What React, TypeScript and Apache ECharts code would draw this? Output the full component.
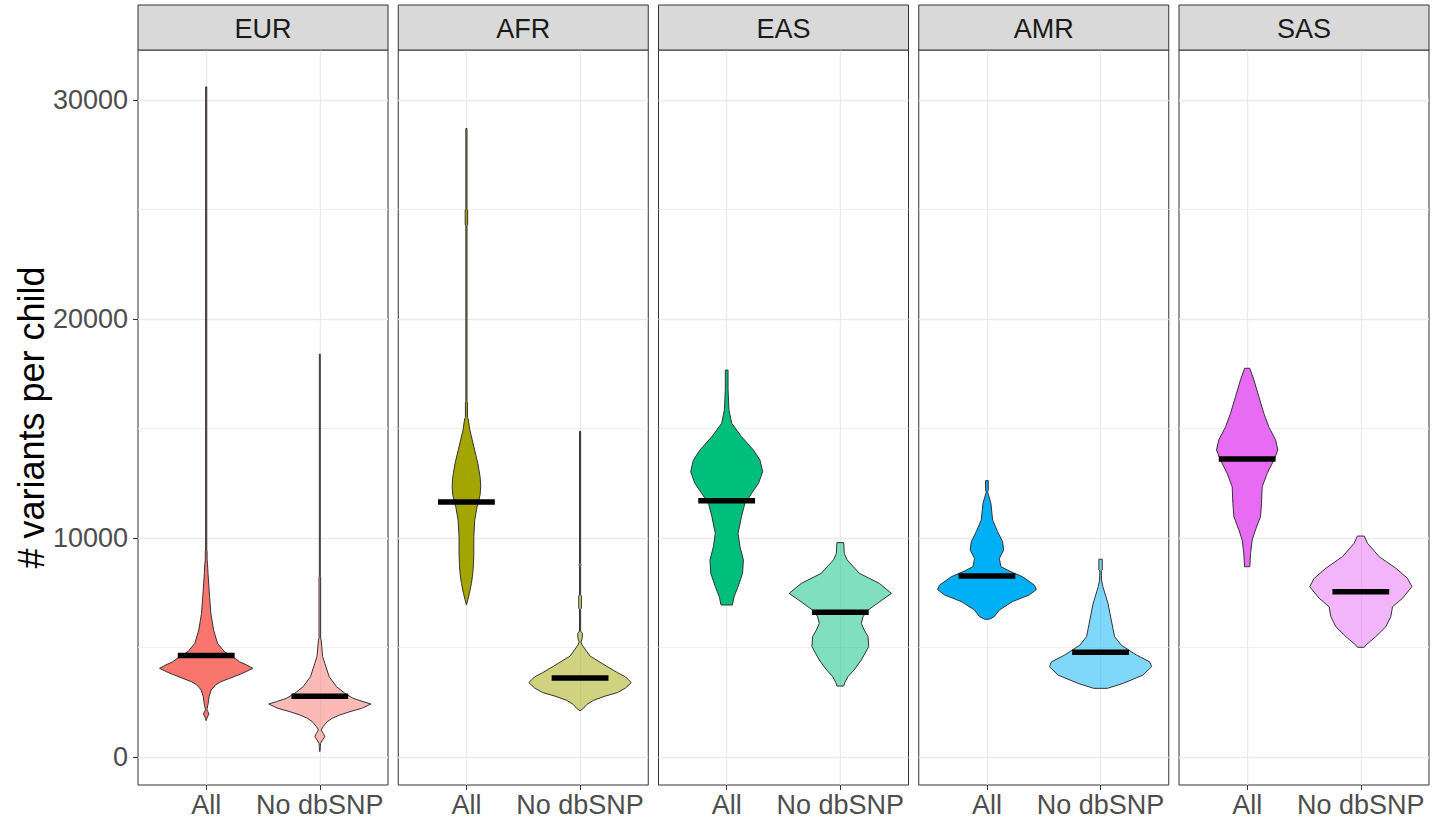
import React, { useEffect, useRef } from "react";
import * as echarts from "echarts";

// ---------- data ----------
const REGIONS = ["EUR", "AFR", "EAS", "AMR", "SAS"];
const GROUPS = ["All", "No dbSNP"];
const COLORS = ["#F8766D", "#A3A500", "#00BF7D", "#00B0F6", "#E76BF3"];
const Y_MAJOR = [0, 10000, 20000, 30000];
const Y_MINOR = [5000, 15000, 25000];
const MEDIAN_ALL = [4640, 11640, 11705, 8265, 13607];
const MEDIAN_NODB = [2780, 3610, 6606, 4780, 7550];

// violin outlines: [value, half-width in category units]
const EUR_ALL = [
  [30600, 0.005], [9450, 0.005], [9400, 0.008], [9000, 0.008], [8800, 0.012], [8390, 0.016],
  [7320, 0.03], [6560, 0.041], [5800, 0.065], [5190, 0.1], [4810, 0.16], [4580, 0.235],
  [4350, 0.293], [4200, 0.358], [4050, 0.41], [3900, 0.352], [3740, 0.28], [3590, 0.205],
  [3440, 0.13], [3290, 0.082], [3060, 0.044], [2760, 0.026], [2460, 0.018], [2230, 0.009],
  [2150, 0.006], [2060, 0.016], [1960, 0.024], [1860, 0.014], [1760, 0.006], [1660, 0],
];
const EUR_NODB = [
  [18400, 0.004], [8240, 0.004], [8230, 0.007], [5400, 0.007], [5340, 0.012], [4580, 0.025],
  [4280, 0.044], [3670, 0.082], [3210, 0.147], [2910, 0.22], [2680, 0.293], [2530, 0.38],
  [2420, 0.45], [2220, 0.367], [2070, 0.264], [1920, 0.176], [1770, 0.11], [1610, 0.065],
  [1390, 0.03], [1230, 0.012], [1080, 0.03], [930, 0.044], [780, 0.024], [620, 0.006],
  [470, 0.005], [244, 0],
];
const AFR_ALL = [
  [28700, 0.005], [25000, 0.005], [24980, 0.011], [24300, 0.011], [24280, 0.005], [16220, 0.005],
  [16200, 0.009], [15500, 0.009], [15460, 0.015], [14930, 0.03], [14170, 0.065], [13410, 0.1],
  [12800, 0.12], [12340, 0.126], [11960, 0.12], [11430, 0.094], [10820, 0.073], [10060, 0.065],
  [9300, 0.065], [8840, 0.062], [8390, 0.056], [7930, 0.044], [7470, 0.026], [6940, 0],
];
const AFR_NODB = [
  [14870, 0.005], [8850, 0.005], [8800, 0.009], [8700, 0.005], [7400, 0.005], [7350, 0.012],
  [6800, 0.012], [6750, 0.005], [5750, 0.005], [5650, 0.02], [5450, 0.02], [5250, 0.008],
  [5100, 0.02], [4610, 0.088], [4140, 0.235], [3850, 0.33], [3660, 0.4], [3400, 0.45],
  [3150, 0.4], [2945, 0.33], [2780, 0.22], [2585, 0.117], [2400, 0.06], [2224, 0.03], [2105, 0],
];
const EAS_ALL = [
  [17670, 0.012], [16800, 0.012], [15850, 0.02], [15240, 0.044], [14630, 0.13], [14020, 0.235],
  [13560, 0.293], [13030, 0.317], [12500, 0.28], [12040, 0.22], [11580, 0.16], [10970, 0.13],
  [10210, 0.1], [9600, 0.117], [9000, 0.147], [8390, 0.14], [7780, 0.1], [7320, 0.065], [6941, 0.05],
];
const EAS_NODB = [
  [9790, 0.03], [9300, 0.035], [9000, 0.06], [8390, 0.167], [7930, 0.343], [7470, 0.45],
  [7170, 0.367], [6710, 0.244], [6410, 0.2], [6100, 0.185], [5800, 0.21], [5500, 0.244],
  [5040, 0.25], [4430, 0.185], [3970, 0.12], [3670, 0.067], [3400, 0.04], [3240, 0.03],
];
const AMR_ALL = [
  [12620, 0.012], [12200, 0.012], [12100, 0.006], [11580, 0.035], [10820, 0.05], [10290, 0.094],
  [9830, 0.138], [9450, 0.147], [9070, 0.109], [8690, 0.123], [8460, 0.211], [8230, 0.314],
  [7850, 0.417], [7650, 0.435], [7400, 0.373], [7100, 0.226], [6710, 0.109], [6410, 0.065], [6290, 0.02],
];
const AMR_NODB = [
  [9030, 0.015], [8540, 0.015], [8500, 0.006], [8080, 0.009], [7780, 0.02], [7020, 0.065],
  [6260, 0.094], [5500, 0.123], [5110, 0.182], [4660, 0.314], [4350, 0.431], [4130, 0.45],
  [3740, 0.373], [3360, 0.197], [3135, 0.06],
];
const SAS_ALL = [
  [17750, 0.023], [17220, 0.059], [16450, 0.103], [15690, 0.147], [15080, 0.19], [14480, 0.25],
  [14020, 0.27], [13560, 0.235], [12950, 0.176], [12340, 0.132], [11580, 0.126], [10970, 0.117],
  [10370, 0.073], [9910, 0.044], [9300, 0.03], [8690, 0.023],
];
const SAS_NODB = [
  [10090, 0.03], [9760, 0.059], [9150, 0.161], [8620, 0.308], [8160, 0.41], [7780, 0.45],
  [7250, 0.367], [6860, 0.279], [6410, 0.264], [5950, 0.22], [5500, 0.132], [5110, 0.044], [5010, 0.03],
];

const PROFILES = [
  [EUR_ALL, EUR_NODB],
  [AFR_ALL, AFR_NODB],
  [EAS_ALL, EAS_NODB],
  [AMR_ALL, AMR_NODB],
  [SAS_ALL, SAS_NODB],
];

// ---------- layout ----------
const FONT = "'Liberation Sans', Arial, sans-serif";
const PANEL_LEFT0 = 138;
const PANEL_STEP = 260.25;
const PANEL_W = 250;
const PANEL_TOP = 50;
const PANEL_H = 735;
const STRIP_TOP = 5;
const Y_MIN = -1278;
const Y_MAX = 32284;

function hexToRgba(hex: string, a: number) {
  const r = parseInt(hex.slice(1, 3), 16);
  const g = parseInt(hex.slice(3, 5), 16);
  const b = parseInt(hex.slice(5, 7), 16);
  return `rgba(${r},${g},${b},${a})`;
}

function buildOption() {
  const grids: any[] = [];
  const xAxes: any[] = [];
  const yAxes: any[] = [];
  const series: any[] = [];
  const graphics: any[] = [];

  REGIONS.forEach((region, i) => {
    const left = PANEL_LEFT0 + i * PANEL_STEP;
    grids.push({
      left,
      top: PANEL_TOP,
      width: PANEL_W,
      height: PANEL_H,
      show: true,
      backgroundColor: "#ffffff",
      borderColor: "#333333",
      borderWidth: 1,
    });
    xAxes.push({
      type: "value",
      gridIndex: i,
      min: 0.4,
      max: 2.6,
      position: "bottom",
      axisLine: { show: false, onZero: false },
      axisTick: {
        show: true,
        customValues: [1, 2],
        length: 5,
        lineStyle: { color: "#333333", width: 1 },
      },
      axisLabel: {
        customValues: [1, 2],
        formatter: (v: number) => GROUPS[Math.round(v) - 1] ?? "",
        fontSize: 27,
        color: "#4D4D4D",
        fontFamily: FONT,
        margin: 6,
      },
      splitLine: { show: true, lineStyle: { color: "#EBEBEB", width: 1.3 } },
    });
    // major y axis (labels only on first panel)
    yAxes.push({
      type: "value",
      gridIndex: i,
      min: Y_MIN,
      max: Y_MAX,
      position: "left",
      axisLine: { show: false, onZero: false },
      axisTick: {
        show: i === 0,
        customValues: Y_MAJOR,
        length: 5,
        lineStyle: { color: "#333333", width: 1 },
      },
      axisLabel: {
        show: i === 0,
        customValues: Y_MAJOR,
        formatter: (v: number) => String(Math.round(v)),
        fontSize: 27,
        color: "#4D4D4D",
        fontFamily: FONT,
        margin: 10,
      },
      splitLine: { show: true, lineStyle: { color: "#EBEBEB", width: 1.3 } },
      name: i === 0 ? "# variants per child" : "",
      nameLocation: "middle",
      nameGap: 88,
      nameTextStyle: { fontSize: 36, color: "#000000", fontFamily: FONT },
    });
    // minor y axis (grid lines only)
    yAxes.push({
      type: "value",
      gridIndex: i,
      min: Y_MIN,
      max: Y_MAX,
      position: "left",
      axisLine: { show: false, onZero: false },
      axisTick: { show: false, customValues: Y_MINOR },
      axisLabel: { show: false, customValues: Y_MINOR },
      splitLine: { show: true, lineStyle: { color: "#EEEEEE", width: 0.9 } },
    });

    const color = COLORS[i];
    series.push({
      type: "custom",
      name: region,
      xAxisIndex: i,
      yAxisIndex: 2 * i,
      silent: true,
      data: [
        [1, MEDIAN_ALL[i]],
        [2, MEDIAN_NODB[i]],
      ],
      renderItem: (params: any, api: any) => {
        const g = params.dataIndex;
        const prof = PROFILES[i][g];
        const cx = api.value(0);
        const med = api.value(1);
        const right = prof.map(([v, w]) => api.coord([cx + w, v]));
        const leftSide = prof
          .slice()
          .reverse()
          .map(([v, w]) => api.coord([cx - w, v]));
        const pts = right.concat(leftSide);
        const a = api.coord([cx - 0.25, med]);
        const b = api.coord([cx + 0.25, med]);
        return {
          type: "group",
          children: [
            {
              type: "polygon",
              shape: { points: pts },
              style: {
                fill: g === 0 ? color : hexToRgba(color, 0.5),
                stroke: "#333333",
                lineWidth: 1,
              },
            },
            {
              type: "rect",
              shape: { x: a[0], y: a[1] - 2.75, width: b[0] - a[0], height: 5.5 },
              style: { fill: "#000000" },
            },
          ],
        };
      },
    });

    graphics.push({
      type: "rect",
      shape: { x: left, y: STRIP_TOP, width: PANEL_W, height: PANEL_TOP - STRIP_TOP },
      style: { fill: "#D9D9D9", stroke: "#333333", lineWidth: 1 },
      z: 10,
    });
    graphics.push({
      type: "text",
      x: left + PANEL_W / 2,
      y: (STRIP_TOP + PANEL_TOP) / 2 + 1,
      style: {
        text: region,
        fontSize: 27,
        fill: "#1A1A1A",
        fontFamily: FONT,
        align: "center",
        verticalAlign: "middle",
      },
      z: 11,
    });
  });

  return {
    animation: false,
    backgroundColor: "#ffffff",
    textStyle: { fontFamily: FONT },
    grid: grids,
    xAxis: xAxes,
    yAxis: yAxes,
    series,
    graphic: graphics,
  };
}

export default function App() {
  const ref = useRef<HTMLDivElement>(null);
  useEffect(() => {
    if (!ref.current) return;
    const chart = echarts.init(ref.current, null, { renderer: "svg" });
    chart.setOption(buildOption() as any);
    return () => chart.dispose();
  }, []);
  return (
    <div
      ref={ref}
      style={{ position: "fixed", left: 0, top: 0, width: 1440, height: 823, background: "#fff" }}
    />
  );
}
